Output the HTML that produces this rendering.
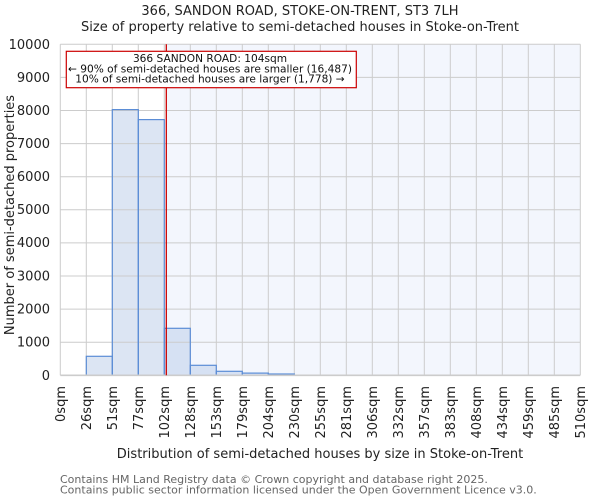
<!DOCTYPE html>
<html><head><meta charset="utf-8"><style>
html,body{margin:0;padding:0;background:#fff;}
svg{display:block;font-family:"DejaVu Sans","Liberation Sans",sans-serif;}
</style></head><body>
<svg width="600" height="500" viewBox="0 0 600 500" xmlns="http://www.w3.org/2000/svg">
<rect x="0" y="0" width="600" height="500" fill="#fff"/>
<text x="300" y="15" font-size="13" text-anchor="middle" fill="#222">366, SANDON ROAD, STOKE-ON-TRENT, ST3 7LH</text>
<text x="300" y="31" font-size="13" text-anchor="middle" fill="#222">Size of property relative to semi-detached houses in Stoke-on-Trent</text>
<!-- highlight region -->
<rect x="166.3" y="44.3" width="414" height="331" fill="#f3f6fd"/>
<!-- bars fill -->
<g fill="#dce5f3">
<rect x="86.3" y="356.3" width="26" height="19"/>
<rect x="112.3" y="109.6" width="26" height="265.7"/>
<rect x="138.3" y="119.6" width="26" height="255.7"/>
<rect x="164.3" y="328.3" width="2" height="47"/>
</g>
<g fill="#d6e1f3">
<rect x="166.3" y="328.3" width="24" height="47"/>
<rect x="190.3" y="365.3" width="26" height="10"/>
<rect x="216.3" y="371.3" width="26" height="4"/>
<rect x="242.3" y="373.1" width="26" height="2.2"/>
<rect x="268.3" y="374" width="26" height="1.3"/>
</g>
<!-- grid -->
<g stroke="#cccccc" stroke-width="1" fill="none">
<line x1="60.3" y1="44.3" x2="580.3" y2="44.3"/>
<line x1="60.3" y1="77.4" x2="580.3" y2="77.4"/>
<line x1="60.3" y1="110.5" x2="580.3" y2="110.5"/>
<line x1="60.3" y1="143.6" x2="580.3" y2="143.6"/>
<line x1="60.3" y1="176.7" x2="580.3" y2="176.7"/>
<line x1="60.3" y1="209.8" x2="580.3" y2="209.8"/>
<line x1="60.3" y1="242.9" x2="580.3" y2="242.9"/>
<line x1="60.3" y1="276" x2="580.3" y2="276"/>
<line x1="60.3" y1="309.1" x2="580.3" y2="309.1"/>
<line x1="60.3" y1="342.2" x2="580.3" y2="342.2"/>
<line x1="60.3" y1="44.3" x2="60.3" y2="375.3"/>
<line x1="86.3" y1="44.3" x2="86.3" y2="375.3"/>
<line x1="112.3" y1="44.3" x2="112.3" y2="375.3"/>
<line x1="138.3" y1="44.3" x2="138.3" y2="375.3"/>
<line x1="164.3" y1="44.3" x2="164.3" y2="375.3"/>
<line x1="190.3" y1="44.3" x2="190.3" y2="375.3"/>
<line x1="216.3" y1="44.3" x2="216.3" y2="375.3"/>
<line x1="242.3" y1="44.3" x2="242.3" y2="375.3"/>
<line x1="268.3" y1="44.3" x2="268.3" y2="375.3"/>
<line x1="294.3" y1="44.3" x2="294.3" y2="375.3"/>
<line x1="320.3" y1="44.3" x2="320.3" y2="375.3"/>
<line x1="346.3" y1="44.3" x2="346.3" y2="375.3"/>
<line x1="372.3" y1="44.3" x2="372.3" y2="375.3"/>
<line x1="398.3" y1="44.3" x2="398.3" y2="375.3"/>
<line x1="424.3" y1="44.3" x2="424.3" y2="375.3"/>
<line x1="450.3" y1="44.3" x2="450.3" y2="375.3"/>
<line x1="476.3" y1="44.3" x2="476.3" y2="375.3"/>
<line x1="502.3" y1="44.3" x2="502.3" y2="375.3"/>
<line x1="528.3" y1="44.3" x2="528.3" y2="375.3"/>
<line x1="554.3" y1="44.3" x2="554.3" y2="375.3"/>
<line x1="580.3" y1="44.3" x2="580.3" y2="375.3"/>
</g>
<!-- bar edges -->
<g fill="none" stroke="#5b8dd6" stroke-width="1.2">
<rect x="86.3" y="356.3" width="26" height="19"/>
<rect x="112.3" y="109.6" width="26" height="265.7"/>
<rect x="138.3" y="119.6" width="26" height="255.7"/>
<rect x="164.3" y="328.3" width="26" height="47"/>
<rect x="190.3" y="365.3" width="26" height="10"/>
<rect x="216.3" y="371.3" width="26" height="4"/>
<rect x="242.3" y="373.1" width="26" height="2.2"/>
<rect x="268.3" y="374" width="26" height="1.3"/>
</g>
<line x1="60.3" y1="375.3" x2="580.3" y2="375.3" stroke="#cccccc" stroke-width="1.6"/>
<!-- red line -->
<line x1="166.3" y1="44.3" x2="166.3" y2="375.3" stroke="#cc0000" stroke-width="1.3"/>
<!-- annotation -->
<rect x="66.3" y="51.3" width="290" height="36.4" fill="#fff" stroke="#cc0000" stroke-width="1.2"/>
<g font-size="10.6" text-anchor="middle" fill="#111">
<text x="210" y="62">366 SANDON ROAD: 104sqm</text>
<text x="210" y="72.3">← 90% of semi-detached houses are smaller (16,487)</text>
<text x="210" y="82.4">10% of semi-detached houses are larger (1,778) →</text>
</g>
<!-- y tick labels -->
<g font-size="13" text-anchor="end" fill="#222">
<text x="50" y="49">10000</text>
<text x="50" y="82">9000</text>
<text x="50" y="115">8000</text>
<text x="50" y="148">7000</text>
<text x="50" y="181">6000</text>
<text x="50" y="214">5000</text>
<text x="50" y="247">4000</text>
<text x="50" y="280.5">3000</text>
<text x="50" y="313.5">2000</text>
<text x="50" y="346.5">1000</text>
<text x="50" y="379.8">0</text>
</g>
<text transform="translate(14,215) rotate(-90)" font-size="13" text-anchor="middle" fill="#222">Number of semi-detached properties</text>
<!-- x tick labels -->
<g font-size="13" text-anchor="end" fill="#222">
<text transform="translate(65,386) rotate(-90)">0sqm</text>
<text transform="translate(91,386) rotate(-90)">26sqm</text>
<text transform="translate(117,386) rotate(-90)">51sqm</text>
<text transform="translate(143,386) rotate(-90)">77sqm</text>
<text transform="translate(169,386) rotate(-90)">102sqm</text>
<text transform="translate(195,386) rotate(-90)">128sqm</text>
<text transform="translate(221,386) rotate(-90)">153sqm</text>
<text transform="translate(247,386) rotate(-90)">179sqm</text>
<text transform="translate(273,386) rotate(-90)">204sqm</text>
<text transform="translate(299,386) rotate(-90)">230sqm</text>
<text transform="translate(325,386) rotate(-90)">255sqm</text>
<text transform="translate(351,386) rotate(-90)">281sqm</text>
<text transform="translate(377,386) rotate(-90)">306sqm</text>
<text transform="translate(403,386) rotate(-90)">332sqm</text>
<text transform="translate(429,386) rotate(-90)">357sqm</text>
<text transform="translate(455,386) rotate(-90)">383sqm</text>
<text transform="translate(481,386) rotate(-90)">408sqm</text>
<text transform="translate(507,386) rotate(-90)">434sqm</text>
<text transform="translate(533,386) rotate(-90)">459sqm</text>
<text transform="translate(559,386) rotate(-90)">485sqm</text>
<text transform="translate(585,386) rotate(-90)">510sqm</text>
</g>
<text x="320" y="458" font-size="13" text-anchor="middle" fill="#222">Distribution of semi-detached houses by size in Stoke-on-Trent</text>
<g font-size="11" fill="#666">
<text x="60" y="483">Contains HM Land Registry data © Crown copyright and database right 2025.</text>
<text x="60" y="493.5">Contains public sector information licensed under the Open Government Licence v3.0.</text>
</g>
</svg>
</body></html>
